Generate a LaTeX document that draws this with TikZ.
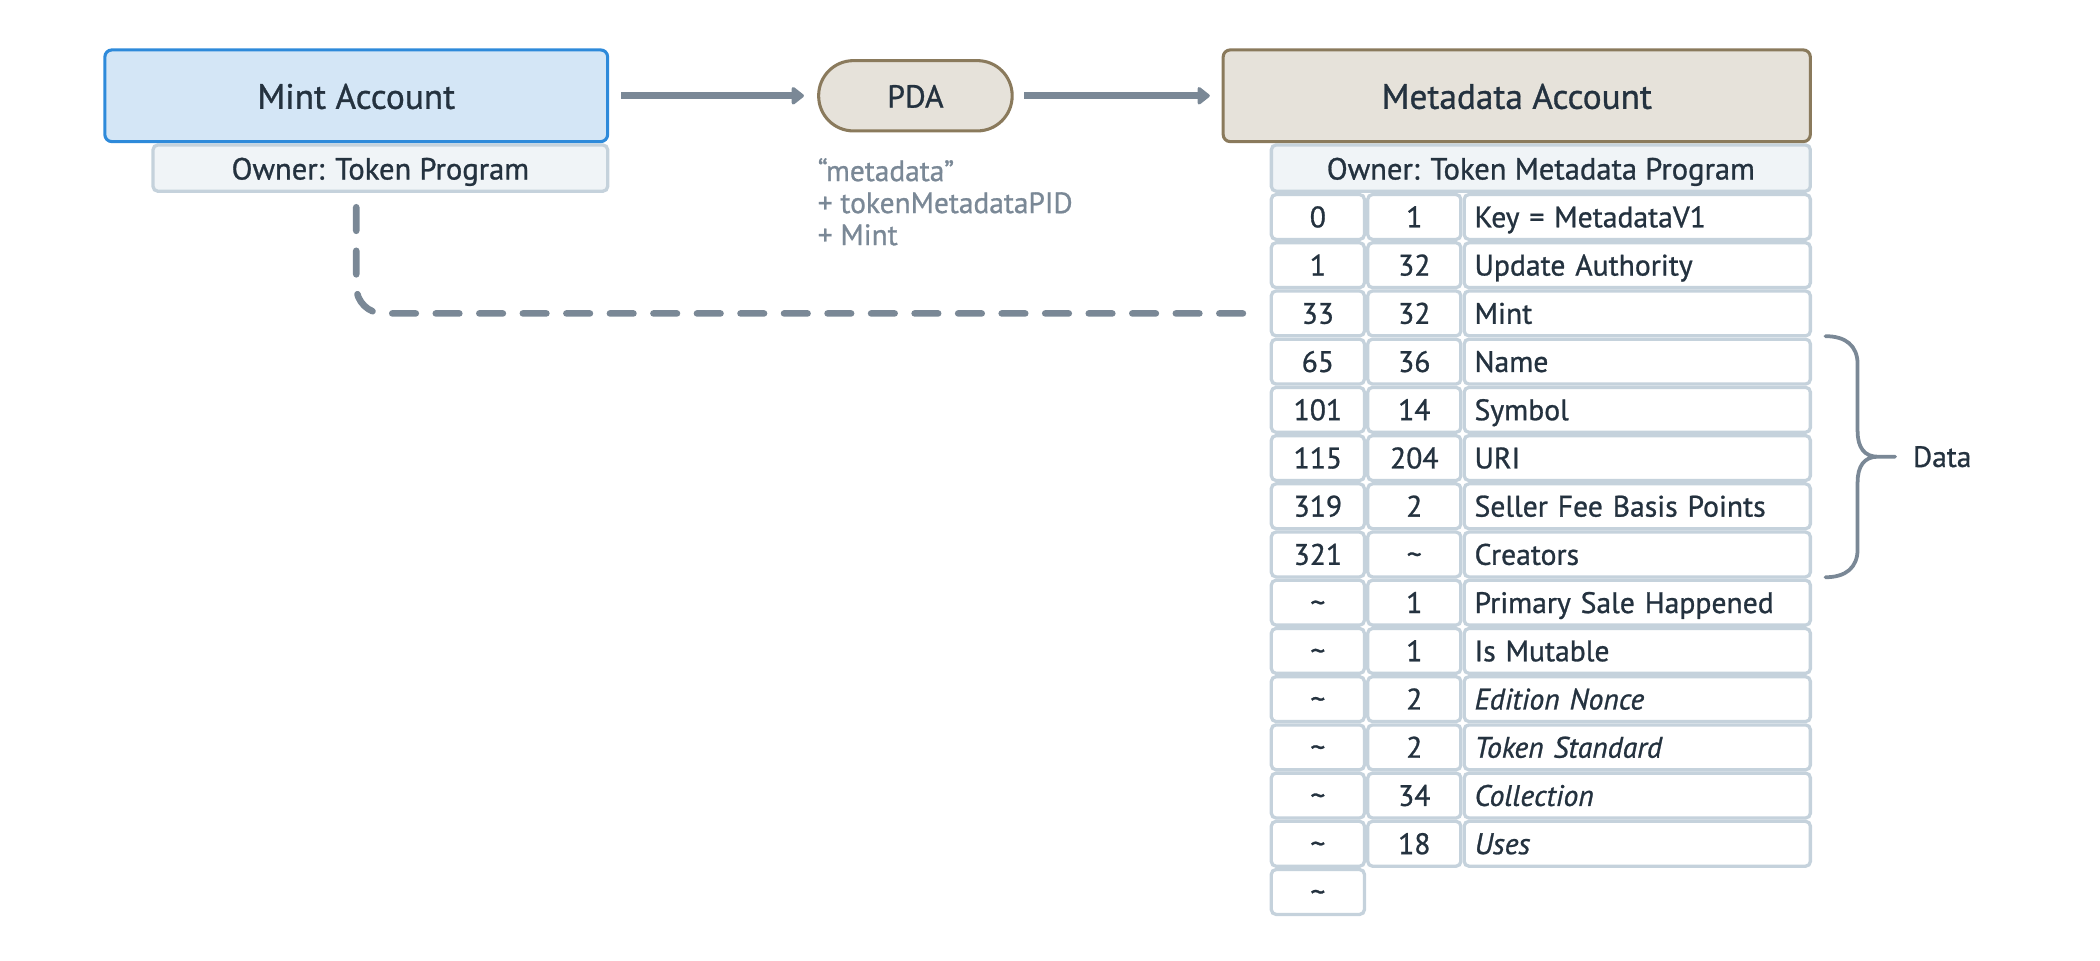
\documentclass[tikz,border=0pt]{standalone}
\usepackage{fontspec}
\setmainfont{PT Sans}[FakeBold=0.9]
\usetikzlibrary{arrows.meta,calc}
\definecolor{ink}{HTML}{24323F}
\definecolor{wire}{HTML}{7A8896}
\definecolor{mintline}{HTML}{2E8ADA}
\definecolor{mintfill}{HTML}{D4E6F6}
\definecolor{pdaline}{HTML}{8A7A5C}
\definecolor{pdafill}{HTML}{E6E2DA}
\definecolor{cellline}{HTML}{C5D2DC}
\definecolor{ownerfill}{HTML}{F0F4F7}
\tikzset{
  account/.style={draw, rounded corners=3pt, line width=1.3pt, inner sep=0pt, outer sep=0pt,
    text=ink, minimum height=1.37cm, text height=12pt, text depth=0.9pt, font=\fontsize{15}{17}\selectfont},
  mintbox/.style={account, draw=mintline, fill=mintfill, minimum width=7.51cm},
  metabox/.style={account, draw=pdaline, fill=pdafill, minimum width=8.77cm},
  pdabox/.style={account, draw=pdaline, fill=pdafill, minimum width=2.89cm, minimum height=1.05cm,
    rounded corners=0.52cm, text height=11pt, text depth=1pt, font=\fontsize{13.5}{15}\selectfont},
  owner/.style={draw=cellline, fill=ownerfill, rounded corners=2pt, line width=1.4pt, inner sep=0pt,
    outer sep=0pt, text=ink, minimum height=0.69cm, text height=10.5pt, text depth=0.8pt,
    font=\fontsize{13}{15}\selectfont},
  cell/.style={draw=cellline, fill=white, rounded corners=2pt, line width=1.4pt, inner sep=0pt,
    outer sep=0pt, text=ink, minimum width=1.39cm, minimum height=0.67cm, text height=9.8pt,
    text depth=1pt, font=\fontsize{12.6}{14}\selectfont},
  field/.style={cell, minimum width=5.17cm, text width=4.86cm, align=left},
  seed/.style={text=wire, inner sep=0pt, align=left, font=\fontsize{12.5}{13.6}\selectfont},
  flow/.style={draw=wire, line width=2.8pt, -{Triangle[length=0.2cm,width=0.3cm,round]}},
  link/.style={draw=wire, line width=2.8pt, line cap=round, dash pattern=on 10pt off 8.5pt,
    rounded corners=0.4cm},
  brace/.style={draw=wire, line width=1.6pt, line cap=round},
}
\begin{document}
\begin{tikzpicture}[x=0.02cm, y=-0.02cm]
      \useasboundingbox (0,0) rectangle (1568,716.8);
      \node[owner, minimum width=6.79cm] (mintowner) at (284,125.5) {Owner: Token Program};
      \node[owner, minimum width=8.05cm] (metaowner) at (1150.5,125.5) {Owner: Token Metadata Program};
      \node[mintbox] (mint) at (266,71.5) {Mint Account};
      \node[pdabox] (pda) at (683.5,71.5) {PDA};
      \node[metabox] (meta) at (1132.5,71.5) {Metadata Account};
      \node[seed, anchor=north west] (seeds) at ($(pda.south west)+(-1,20)$)
        {``metadata''\\+ tokenMetadataPID\\+ Mint};
      \path
        (984,162) node[cell] (r0a) {0}
        (1056,162) node[cell] (r0b) {1}
        (1222.5,162) node[field] (r0c) {Key = MetadataV1}
        (984,198) node[cell] (r1a) {1}
        (1056,198) node[cell] (r1b) {32}
        (1222.5,198) node[field] (r1c) {Update Authority}
        (984,234) node[cell] (r2a) {33}
        (1056,234) node[cell] (r2b) {32}
        (1222.5,234) node[field] (r2c) {Mint}
        (984,270) node[cell] (r3a) {65}
        (1056,270) node[cell] (r3b) {36}
        (1222.5,270) node[field] (r3c) {Name}
        (984,306) node[cell] (r4a) {101}
        (1056,306) node[cell] (r4b) {14}
        (1222.5,306) node[field] (r4c) {Symbol}
        (984,342) node[cell] (r5a) {115}
        (1056,342) node[cell] (r5b) {204}
        (1222.5,342) node[field] (r5c) {URI}
        (984,378) node[cell] (r6a) {319}
        (1056,378) node[cell] (r6b) {2}
        (1222.5,378) node[field] (r6c) {Seller Fee Basis Points}
        (984,414) node[cell] (r7a) {321}
        (1056,414) node[cell] (r7b) {\textasciitilde}
        (1222.5,414) node[field] (r7c) {Creators}
        (984,450) node[cell] (r8a) {\textasciitilde}
        (1056,450) node[cell] (r8b) {1}
        (1222.5,450) node[field] (r8c) {Primary Sale Happened}
        (984,486) node[cell] (r9a) {\textasciitilde}
        (1056,486) node[cell] (r9b) {1}
        (1222.5,486) node[field] (r9c) {Is Mutable}
        (984,522) node[cell] (r10a) {\textasciitilde}
        (1056,522) node[cell] (r10b) {2}
        (1222.5,522) node[field] (r10c) {\textit{Edition Nonce}}
        (984,558) node[cell] (r11a) {\textasciitilde}
        (1056,558) node[cell] (r11b) {2}
        (1222.5,558) node[field] (r11c) {\textit{Token Standard}}
        (984,594) node[cell] (r12a) {\textasciitilde}
        (1056,594) node[cell] (r12b) {34}
        (1222.5,594) node[field] (r12c) {\textit{Collection}}
        (984,630) node[cell] (r13a) {\textasciitilde}
        (1056,630) node[cell] (r13b) {18}
        (1222.5,630) node[field] (r13c) {\textit{Uses}}
        (984,666) node[cell] (r14a) {\textasciitilde};
      \node[text=ink, anchor=west, inner sep=0pt, font=\fontsize{12.5}{14}\selectfont] (datalabel) at (1428,341) {Data};
      \begin{scope}
        \draw[flow, shorten <=0.2cm, shorten >=0.22cm] (mint) to (pda);
        \draw[flow, shorten <=0.18cm, shorten >=0.2cm] (pda) to (meta);
        \draw[link, shorten <=0.24cm, shorten >=0.2cm] (mint.south |- mintowner.south) |- (r2a.west);
        \draw[brace] (1363,251) .. controls (1378,251) and (1387,258) .. (1387,272) -- (1387,322)
          .. controls (1387,334) and (1392,341) .. (1402,341) -- (1415,341)
          (1402,341) .. controls (1392,341) and (1387,348) .. (1387,360) -- (1387,410)
          .. controls (1387,424) and (1378,431) .. (1363,431);
      \end{scope}
    \end{tikzpicture}
\end{document}
